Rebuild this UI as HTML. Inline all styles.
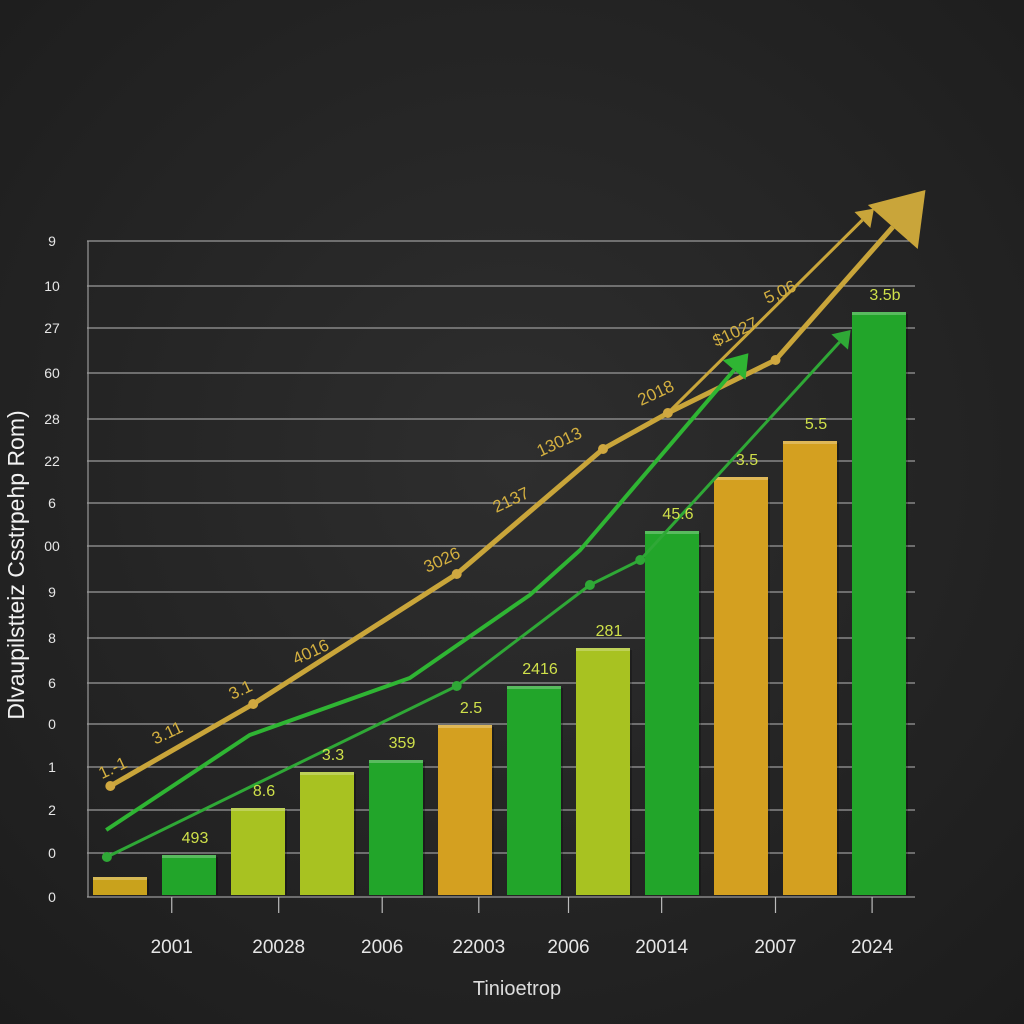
<!DOCTYPE html>
<html><head><meta charset="utf-8"><style>
html,body{margin:0;padding:0;background:#262626;}
svg{display:block}
text{font-family:"Liberation Sans",sans-serif;}
</style></head><body>
<svg id="c" width="1024" height="1024" viewBox="0 0 1024 1024">
<defs>
<radialGradient id="bg" cx="50%" cy="45%" r="75%"><stop offset="0" stop-color="#2e2e2e"/><stop offset="1" stop-color="#1c1c1c"/></radialGradient>
</defs>
<rect width="1024" height="1024" fill="url(#bg)"/>
<g id="grid"></g><g id="bars"></g><g id="lines"></g><g id="labels"></g>
<text x="24" y="565" fill="#f2f2f2" font-size="23" text-anchor="middle" transform="rotate(-90 24 565)">Dlvaupilstteiz  Csstrpehp  Rom)</text>
<text x="517" y="995" fill="#dddddd" font-size="20" text-anchor="middle">Tinioetrop</text>
</svg>
<script>
const yTickLabels=["9","10","27","60","28","22","6","00","9","8","6","0","1","2","0","0"];
const yTickValues=[654,609,567,522,476,434,392,349,303,257,212,171,128,85,42,-2];
const xLabels=["2001","20028","2006","22003","2006","20014","2007","2024"];
const xLabelPos=[0.75,2.3,3.8,5.2,6.5,7.85,9.5,10.9];
const barValues=[18,40,87,123,135,170,209,247,364,418,454,583];
const barColors=["#c9a21c","#22a52a","#a8c221","#a8c221","#22a52a","#d4a020","#22a52a","#a8c221","#22a52a","#d4a020","#d4a020","#22a52a"];
const barLabels=["","493","8.6","3.3","359","2.5","2416","281","45.6","3.5","5.5","3.5b"];
const goldX=[-0.14,1.93,4.88,7.0,7.94,9.5,11.2];
const goldY=[109,191,321,446,482,535,668];
const goldLabels=["1.-1","3.11","3.1","4016","3026","2137","13013","2018","$1027","5,06"];
const goldLabelX=[-0.07,0.72,1.78,2.8,4.7,5.7,6.4,7.8,8.95,9.6];
const goldLabelY=[122,157,200,238,330,390,448,497,558,598];
const gold2X=[7.94,10.76];
const gold2Y=[482,675];
const greenX=[-0.2,1.88,4.2,5.94,6.67,8.9];
const greenY=[65,160,217,300,345,525];
const green2X=[-0.19,4.88,6.81,7.54,10.43];
const green2Y=[38,209,310,335,553];
const X0=120,STEP=69,BW=54,Y0=895,K=1.0;
const sx=i=>X0+i*STEP, sy=v=>Y0-v*K;
const NS="http://www.w3.org/2000/svg";
function mk(t,a,p){const e=document.createElementNS(NS,t);for(const k in a)e.setAttribute(k,a[k]);p.appendChild(e);return e;}
const grid=document.getElementById('grid'),bars=document.getElementById('bars'),lines=document.getElementById('lines'),labels=document.getElementById('labels');
yTickValues.forEach((v,i)=>{
 const l=mk('line',{x1:87,x2:915,y1:sy(v),y2:sy(v),stroke:'#9a9a9a','stroke-width':1.2},grid);
 
 
 const t=mk('text',{x:52,y:sy(v)+5,fill:'#e6e6e6','font-size':14,'text-anchor':'middle'},grid);
 t.textContent=yTickLabels[i];
 
 
});
const ax=mk('line',{x1:88,x2:88,y1:241,y2:897,stroke:'#9a9a9a','stroke-width':1.2},grid);


xLabels.forEach((s,i)=>{
 const x=sx(xLabelPos[i]);
 const tk=mk('line',{x1:x,x2:x,y1:897,y2:913,stroke:'#bbb','stroke-width':1.2},grid);
 
 
 const t=mk('text',{x:x,y:953,fill:'#e6e6e6','font-size':19,'text-anchor':'middle'},grid);
 t.textContent=s;
 
 
});
barValues.forEach((v,i)=>{
 const x=sx(i)-BW/2,y=sy(v),h=Y0-y;
 const sd=mk('rect',{x:x+BW-4,y:y+2,width:6,height:h-2,fill:'#000','fill-opacity':0.25},bars);
 
 
 const r=mk('rect',{x:x,y:y,width:BW,height:h,fill:barColors[i]},bars);
 
 
 const tp=mk('rect',{x:x,y:y,width:BW,height:3,fill:'#ffffff','fill-opacity':0.25},bars);
 
 
 if(barLabels[i]){
  const t=mk('text',{x:sx(i)+6,y:y-12,fill:'#cfe04a','font-size':16,'text-anchor':'middle'},labels);
  t.textContent=barLabels[i];
  
  
 }
});
function poly(xs,ys,col,w,name,hs){
 const pts=xs.map((x,i)=>sx(x)+','+sy(ys[i])).join(' ');
 const p=mk('polyline',{points:pts,fill:'none',stroke:col,'stroke-width':w,'stroke-linejoin':'round'},lines);
 
 
 const n=xs.length,x1=sx(xs[n-2]),y1=sy(ys[n-2]),x2=sx(xs[n-1]),y2=sy(ys[n-1]);
 const a=Math.atan2(y2-y1,x2-x1),L=(w*4+6)*hs,W=(w*2.5+5)*hs;
 const tip=[x2+Math.cos(a)*L,y2+Math.sin(a)*L];
 const b1=[x2-Math.sin(a)*W,y2+Math.cos(a)*W],b2=[x2+Math.sin(a)*W,y2-Math.cos(a)*W];
 const h=mk('polygon',{points:[tip,b1,b2].map(q=>q.join(',')).join(' '),fill:col},lines);
 
 
}
poly(goldX,goldY,'#c9a53a',5,'gold-trend-line',1.9);
poly(gold2X,gold2Y,'#c9a53a',3,'gold-thin-line',0.9);
poly(greenX,greenY,'#2fb533',4,'green-trend-line',1);
poly(green2X,green2Y,'#2fa836',3,'green-thin-line',0.9);
[[goldX,goldY,'#d0a840'],[green2X,green2Y,'#2fa836']].forEach(([xs,ys,c])=>{
 xs.forEach((x,i)=>{if(i===xs.length-1)return;
  const d=mk('circle',{cx:sx(x),cy:sy(ys[i]),r:5,fill:c},lines);
  
  
 });
});
goldLabels.forEach((s,i)=>{
 const x=sx(goldLabelX[i]),y=sy(goldLabelY[i]);
 const t=mk('text',{x:x,y:y,fill:'#d4b040','font-size':17,'text-anchor':'middle',transform:`rotate(-25 ${x} ${y})`},labels);
 t.textContent=s;
 
 
});
</script>
</body></html>
